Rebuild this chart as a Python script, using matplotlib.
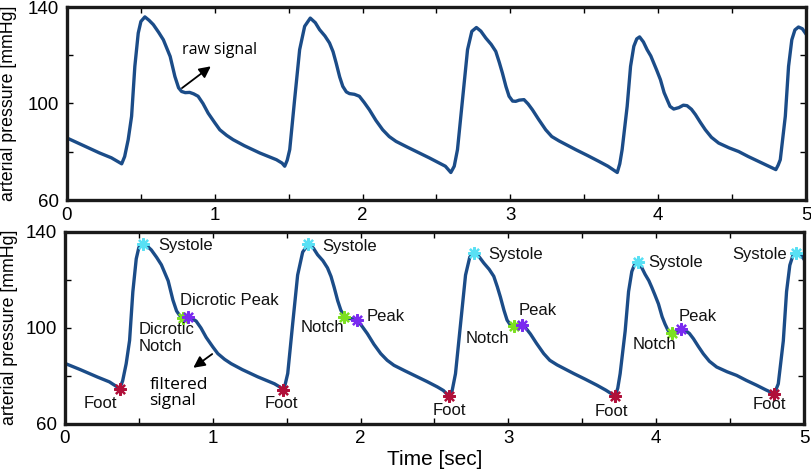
import matplotlib.pyplot as plt
from matplotlib.ticker import FixedLocator, MultipleLocator

# time grid [sec] (shared by both panels)
time_s = [0.00, 0.10, 0.22, 0.30, 0.37, 0.39, 0.414, 0.437, 0.459, 0.482, 0.50, 0.527,
          0.555, 0.584, 0.62, 0.652, 0.698, 0.73, 0.755, 0.775, 0.80, 0.83, 0.857, 0.887,
          0.92, 0.955, 1.0, 1.034, 1.08, 1.124, 1.20, 1.304, 1.417, 1.455, 1.473,
          1.49, 1.507, 1.54, 1.574, 1.608, 1.646, 1.68, 1.709, 1.745, 1.776, 1.80, 1.821,
          1.845, 1.866, 1.89, 1.911, 1.945, 1.978, 2.01, 2.046, 2.09, 2.136, 2.18, 2.226,
          2.30, 2.384, 2.45, 2.519, 2.56, 2.597,
          2.62, 2.642, 2.676, 2.71, 2.739, 2.77, 2.80, 2.834, 2.87, 2.901, 2.925, 2.946,
          2.97, 2.991, 3.015, 3.036, 3.06, 3.092, 3.12, 3.149, 3.19, 3.239, 3.28, 3.329,
          3.441, 3.52, 3.599, 3.66, 3.723,
          3.74, 3.756, 3.79, 3.813, 3.835, 3.855, 3.874, 3.90, 3.925, 3.95, 3.97, 3.99,
          4.015, 4.04, 4.06, 4.08, 4.105, 4.14, 4.17, 4.195, 4.225, 4.252, 4.285, 4.319,
          4.36, 4.409, 4.48, 4.544, 4.61, 4.679, 4.74, 4.796,
          4.812, 4.826, 4.86, 4.882, 4.904, 4.925, 4.949, 4.975, 5.0]

# raw arterial pressure [mmHg]
raw_p = [85.7, 82.9, 79.5, 77.5, 75.0, 78.0, 85.0, 94.7, 115.4, 129.2, 134.0, 135.9,
         134.5, 132.7, 129.5, 126.4, 119.5, 111.2, 106.5, 105.0, 104.5, 104.6, 104.0, 103.0,
         100.0, 96.0, 92.0, 89.1, 86.8, 85.0, 82.5, 79.5, 76.7, 75.3, 74.0,
         76.5, 80.9, 101.6, 122.3, 132.0, 135.4, 133.5, 130.6, 128.0, 125.1, 121.5, 116.8,
         111.0, 107.1, 104.8, 104.1, 103.8, 103.0, 100.5, 97.4, 93.0, 89.1, 86.3, 84.3,
         82.0, 79.5, 77.5, 75.3, 74.0, 71.4,
         74.0, 80.9, 101.6, 122.3, 129.9, 131.5, 130.0, 127.1, 124.5, 121.6, 117.0, 112.6,
         107.0, 103.0, 101.0, 100.9, 101.4, 101.6, 99.8, 97.4, 93.5, 89.1, 86.3, 84.5,
         80.9, 78.5, 76.0, 74.0, 71.4,
         75.0, 80.9, 98.8, 115.4, 123.7, 126.8, 127.6, 125.5, 122.3, 119.7, 116.8, 113.8,
         109.9, 104.5, 101.6, 98.8, 97.7, 98.3, 99.3, 99.1, 97.6, 95.4, 92.2, 89.1,
         86.0, 83.6, 81.6, 80.1, 78.0, 76.0, 74.2, 72.6,
         74.5, 76.7, 94.7, 115.4, 126.4, 130.5, 131.7, 131.0, 128.8]

# filtered arterial pressure [mmHg]
filt_p = [85.1, 82.6, 79.4, 77.4, 74.6, 77.8, 85.0, 94.7, 115.0, 128.8, 133.6, 135.0,
          134.2, 132.5, 129.4, 126.3, 119.6, 111.6, 107.0, 105.2, 104.2, 104.4, 103.9, 102.8,
          99.9, 96.0, 92.0, 89.2, 86.8, 85.0, 82.5, 79.5, 76.6, 75.2, 73.9,
          76.4, 80.9, 101.4, 122.0, 131.6, 135.0, 133.3, 130.5, 128.0, 125.0, 121.4, 116.9,
          111.3, 107.4, 104.6, 104.0, 103.7, 103.2, 100.6, 97.5, 93.1, 89.2, 86.4, 84.3,
          82.0, 79.5, 77.5, 75.3, 73.8, 71.5,
          73.9, 80.8, 101.4, 122.0, 129.6, 131.1, 129.8, 127.0, 124.4, 121.5, 117.1, 112.8,
          107.3, 103.2, 101.0, 100.6, 101.0, 101.1, 99.7, 97.4, 93.5, 89.2, 86.4, 84.5,
          80.9, 78.5, 76.0, 73.9, 71.4,
          74.8, 80.8, 98.6, 115.1, 123.5, 126.6, 127.4, 125.4, 122.3, 119.7, 116.9, 113.9,
          110.0, 104.6, 101.5, 98.9, 97.7, 98.4, 99.3, 99.0, 97.6, 95.4, 92.2, 89.1,
          86.0, 83.6, 81.6, 80.1, 78.0, 76.0, 74.1, 72.5,
          74.4, 76.6, 94.5, 115.1, 126.1, 130.2, 131.4, 130.8, 128.6]

# fiducial points on the filtered signal
foot_t = [0.37, 1.473, 2.597, 3.723, 4.796]
foot_p = [74.6, 73.9, 71.5, 71.4, 72.5]
sys_t = [0.527, 1.646, 2.77, 3.874, 4.949]
sys_p = [135.0, 135.0, 131.1, 127.4, 131.4]
notch_t = [0.80, 1.89, 3.036, 4.105]
notch_p = [104.2, 104.6, 100.6, 97.7]
peak_t = [0.83, 1.978, 3.092, 4.17]
peak_p = [104.4, 103.2, 101.1, 99.3]

line_col = '#1b4c88'
ast = (8, 2, 0)

plt.rcParams['font.family'] = ['Liberation Sans', 'DejaVu Sans']

fig = plt.figure(figsize=(8.12, 4.73), dpi=100)
ax1 = fig.add_axes([67 / 812, 1 - 200 / 473, 739 / 812, 193 / 473])
ax2 = fig.add_axes([65 / 812, 1 - 423.5 / 473, 739 / 812, 191.5 / 473])

for ax in (ax1, ax2):
    ax.set_xlim(0, 5)
    ax.set_ylim(60, 140)
    ax.xaxis.set_major_locator(MultipleLocator(1))
    ax.xaxis.set_minor_locator(MultipleLocator(0.5))
    ax.yaxis.set_major_locator(FixedLocator([60, 100, 140]))
    ax.yaxis.set_minor_locator(FixedLocator([80, 120]))
    ax.tick_params(which='both', direction='in', top=True, right=True,
                   length=4, width=1, labelsize=13.5)
    ax.tick_params(axis='y', pad=6)
    ax.tick_params(axis='x', pad=5)
    for s in ax.spines.values():
        s.set_linewidth(2.4)
        s.set_color('#1a1a1a')
    ax.set_ylabel('arterial pressure [mmHg]', fontsize=12.8)

ax1.yaxis.set_label_coords(-0.067, 0.5)
ax2.yaxis.set_label_coords(-0.064, 0.5)

ax1.plot(time_s, raw_p, color=line_col, lw=2.4, solid_joinstyle='round')
ax2.plot(time_s, filt_p, color=line_col, lw=2.4, solid_joinstyle='round')

mk = dict(ls='none', marker=ast, ms=9, mew=1.6, zorder=3)
ax2.plot(foot_t, foot_p, color='#b0103a', **mk)
ax2.plot(sys_t, sys_p, color='#58e0f4', **mk)
ax2.plot(notch_t, notch_p, color='#7ce020', **mk)
ax2.plot(peak_t, peak_p, color='#7a2bf0', **mk)

txt = dict(fontsize=12, color='#111111', va='center')
# systole labels
for x, y in [(0.628, 134.3), (1.742, 133.9), (2.861, 130.4), (3.948, 127.4)]:
    ax2.text(x, y, 'Systole', ha='left', **txt)
ax2.text(4.882, 130.4, 'Systole', ha='right', **txt)
# foot labels
for x, y in [(0.238, 68.4), (1.461, 68.4), (2.602, 65.6), (3.696, 65.1), (4.769, 68.1)]:
    ax2.text(x, y, 'Foot', ha='center', **txt)
# dicrotic notch / peak
ax2.text(0.781, 111.2, 'Dicrotic Peak', ha='left', **txt)
ax2.text(0.498, 95.7, 'Dicrotic\nNotch', ha='left', linespacing=1.2, **txt)
for x, y in [(1.889, 100.0), (3.003, 95.6), (4.139, 92.8)]:
    ax2.text(x, y, 'Notch', ha='right', **txt)
for x, y in [(2.041, 104.6), (3.07, 107.4), (4.151, 104.6)]:
    ax2.text(x, y, 'Peak', ha='left', **txt)

arr = dict(arrowstyle='-|>', color='black', lw=1.3, mutation_scale=17)
ax2.annotate('', xy=(0.853, 82.6), xytext=(1.011, 89.7), arrowprops=arr)
ax2.text(0.572, 72.7, 'filtered\nsignal', ha='left', va='center', fontsize=12.5,
         family=['Open Sans', 'DejaVu Sans'], linespacing=1.0)

ax1.annotate('', xy=(0.988, 116.1), xytext=(0.763, 105.7), arrowprops=arr)
ax1.text(0.781, 122.3, 'raw signal', ha='left', va='center', fontsize=11.5,
         family=['Open Sans', 'DejaVu Sans'])

ax2.set_xlabel('Time [sec]', fontsize=15, labelpad=2)

fig.savefig('out.png', dpi=100)
